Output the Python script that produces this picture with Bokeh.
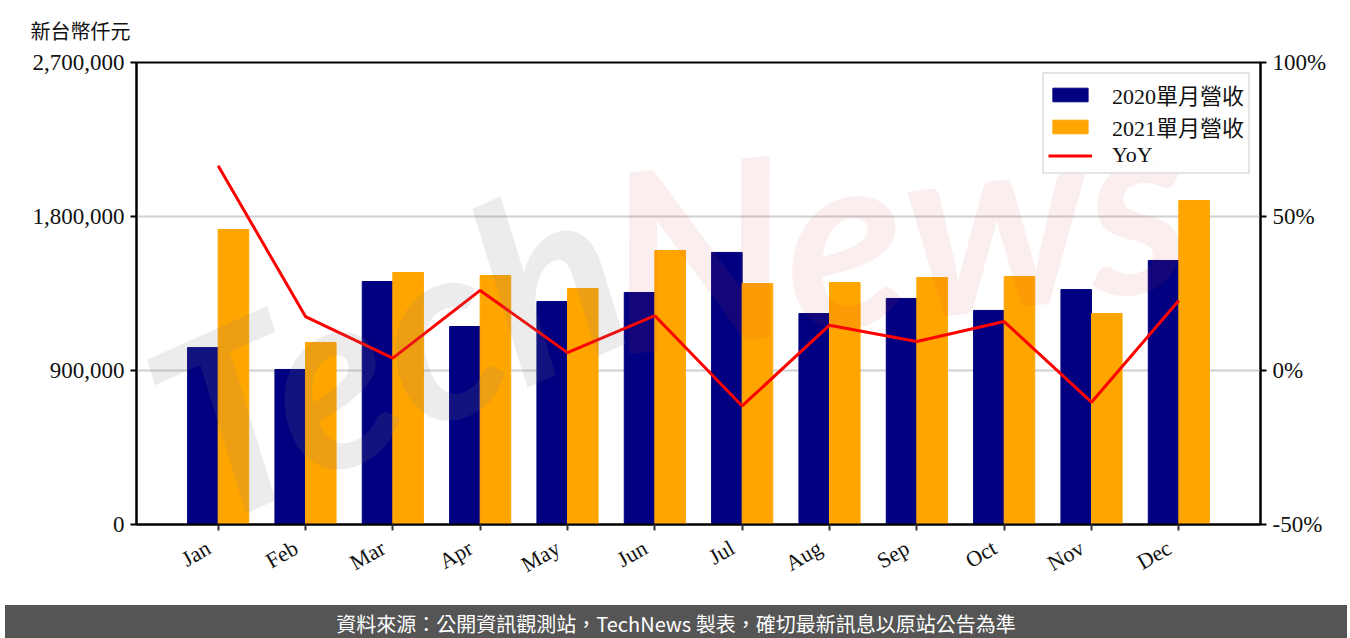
import math
from bokeh.plotting import figure
from bokeh.models import (Range1d, LinearAxis, FixedTicker, NumeralTickFormatter,
                          PrintfTickFormatter, Legend, LegendItem, Label, Div)
from bokeh.layouts import column
from bokeh.embed import file_html
from bokeh.resources import INLINE

months = ["Jan", "Feb", "Mar", "Apr", "May", "Jun", "Jul", "Aug", "Sep", "Oct", "Nov", "Dec"]
rev_2020 = [1034000, 906000, 1420000, 1157000, 1303000, 1356000, 1590000, 1233000, 1321000, 1251000, 1373000, 1543000]
rev_2021 = [1724000, 1064000, 1473000, 1455000, 1379000, 1601000, 1408000, 1414000, 1443000, 1449000, 1233000, 1893000]
yoy = [66.5, 17.5, 4.0, 26.0, 5.8, 17.8, -11.5, 14.7, 9.4, 15.9, -10.3, 22.7]
left_ticks = [0, 900000, 1800000, 2700000]
right_ticks = [-50, 0, 50, 100]

SERIF = "'Liberation Serif', 'Noto Sans CJK TC'"
W = 0.35
xs = list(range(len(months)))

p = figure(width=1342, height=600, output_backend="svg", toolbar_location=None,
           x_range=Range1d(-0.935, 11.935), y_range=Range1d(0, 2700000))
p.min_border_left = 136
p.min_border_right = 82
p.min_border_top = 62
p.min_border_bottom = 76
p.outline_line_color = "black"
p.outline_line_width = 2
p.background_fill_color = "white"
p.border_fill_color = "white"

p.extra_y_ranges = {"yoy": Range1d(-50, 100)}

b1 = p.vbar(x=[x - W / 2 for x in xs], top=rev_2020, width=W, color="#000080")
b2 = p.vbar(x=[x + W / 2 for x in xs], top=rev_2021, width=W, color="#FFA500")
ln = p.line(x=xs, y=yoy, y_range_name="yoy", line_color="#FF0000", line_width=3)

# axes
p.xaxis.ticker = FixedTicker(ticks=xs)
p.xaxis.major_label_overrides = {i: m + "\u2007" for i, m in enumerate(months)}
p.xaxis.major_label_orientation = math.pi / 6
p.yaxis.ticker = FixedTicker(ticks=left_ticks)
p.yaxis.formatter = NumeralTickFormatter(format="0,0")

ax_r = LinearAxis(y_range_name="yoy", ticker=FixedTicker(ticks=right_ticks),
                  formatter=PrintfTickFormatter(format="%d%%"))
p.add_layout(ax_r, "right")

for ax in [p.xaxis[0], p.yaxis[0], ax_r]:
    ax.axis_line_color = "black"
    ax.axis_line_width = 2
    ax.major_tick_line_color = "black"
    ax.major_tick_line_width = 2
    ax.major_tick_out = 6
    ax.major_tick_in = 0
    ax.minor_tick_line_color = None
    ax.major_label_text_font = SERIF
    ax.major_label_text_font_size = "23px"
    ax.major_label_text_color = "#111111"
    ax.major_label_standoff = 6
p.xaxis.major_tick_line_color = "#333333"
p.xaxis.major_label_text_font_size = "22px"
p.xaxis.major_label_standoff = 10

p.xgrid.grid_line_color = None
p.ygrid.ticker = FixedTicker(ticks=left_ticks)
p.ygrid.grid_line_color = "#d0d0d0"
p.ygrid.grid_line_width = 2

# watermark
wm1 = Label(x=250, y=180, x_units="screen", y_units="screen", text="Tech",
            angle=0.42, text_align="center", text_baseline="middle",
            text_font="Lato", text_font_style="bold italic", text_font_size="250px",
            text_color="#808080", text_alpha=0.15)
wm2 = Label(x=760, y=300, x_units="screen", y_units="screen", text="News",
            angle=0.12, text_align="center", text_baseline="middle",
            text_font="Lato", text_font_style="bold italic", text_font_size="250px",
            text_color="#d04040", text_alpha=0.09)
p.add_layout(wm1)
p.add_layout(wm2)

# unit label
p.title.text = "新台幣仟元"
p.title.align = "left"
p.title.offset = -106
p.title.standoff = 35
p.title.vertical_align = "top"
p.title.text_font = SERIF
p.title.text_font_size = "20px"
p.title.text_font_style = "normal"
p.title.text_color = "#111111"

legend = Legend(items=[LegendItem(label="2020單月營收", renderers=[b1]),
                       LegendItem(label="2021單月營收", renderers=[b2]),
                       LegendItem(label="YoY", renderers=[ln])],
                location="top_right")
legend.label_text_font = SERIF
legend.label_text_font_size = "22px"
legend.label_text_color = "#111111"
legend.label_height = 22
legend.glyph_width = 44
legend.glyph_height = 17
legend.label_standoff = 20
legend.spacing = 0
legend.padding = 4
legend.margin = 10
legend.border_line_color = "#cccccc"
legend.border_line_width = 2
legend.background_fill_alpha = 0.9
p.add_layout(legend)

footer = Div(text="資料來源：公開資訊觀測站，TechNews 製表，確切最新訊息以原站公告為準",
             width=1342, height=38,
             styles={"background-color": "#555555", "color": "white",
                     "font-family": "'Noto Sans CJK TC', sans-serif", "font-size": "20px",
                     "text-align": "center", "line-height": "38px", "width": "1342px",
                     "height": "38px"})

layout = column(p, footer, spacing=0)
open("out.html", "w").write(file_html(layout, INLINE))
